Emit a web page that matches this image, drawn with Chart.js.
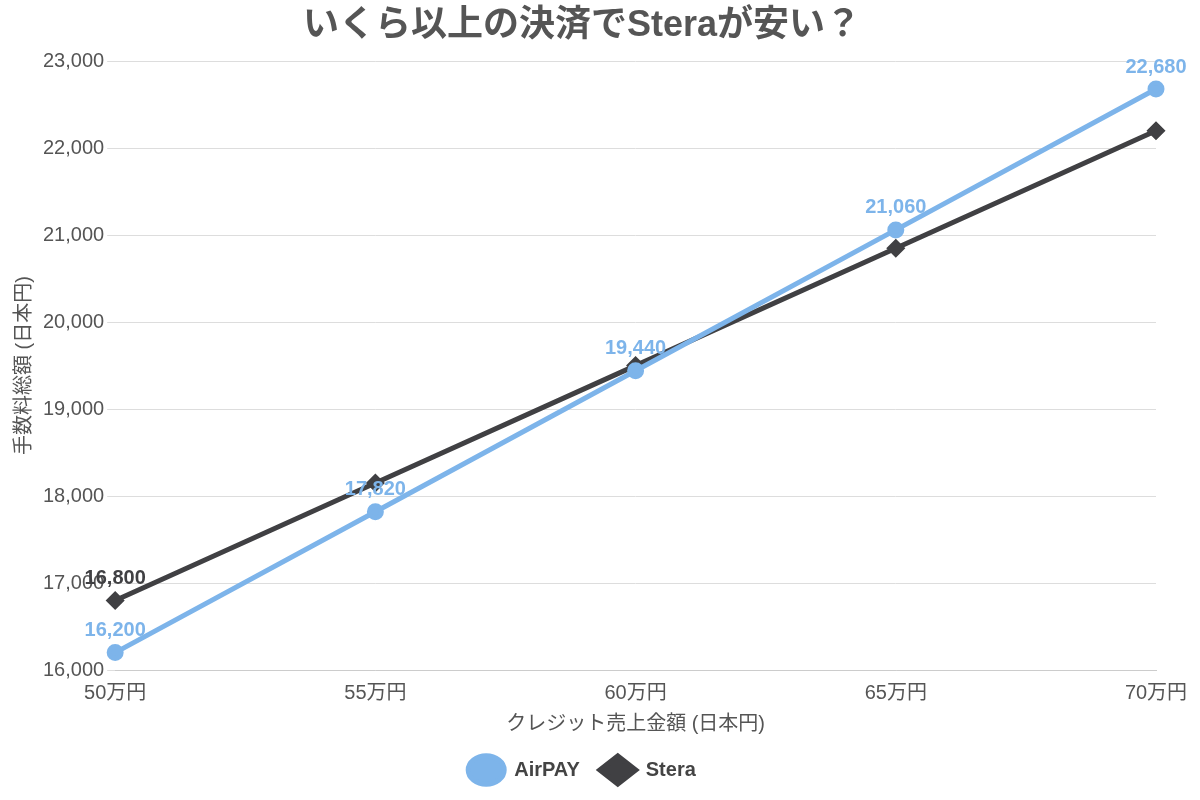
<!DOCTYPE html>
<html>
<head>
<meta charset="utf-8">
<script src="https://cdn.jsdelivr.net/npm/chart.js@4"></script>
<style>
  body { margin: 0; background: #fff; }
</style>
</head>
<body>
<canvas id="chart" width="1200" height="800"></canvas>
<script>
const categories = ['50万円', '55万円', '60万円', '65万円', '70万円'];
const airpayValues = [16200, 17820, 19440, 21060, 22680];
const steraValues = [16800, 18150, 19500, 20850, 22200];
const steraLabelIdx = [0];

const FONT = '"Helvetica Neue", "Liberation Sans", "Noto Sans CJK JP", sans-serif';

// value labels above points
const pointLabels = {
    id: 'pointLabels',
    afterDatasetsDraw(chart) {
        const ctx = chart.ctx;
        ctx.save();
        ctx.font = 'bold 20px ' + FONT;
        ctx.textAlign = 'center';
        ctx.textBaseline = 'bottom';
        chart.data.datasets.forEach((ds, di) => {
            const meta = chart.getDatasetMeta(di);
            meta.data.forEach((pt, i) => {
                if (di === 1 && !steraLabelIdx.includes(i)) return;
                ctx.fillStyle = ds.borderColor;
                ctx.fillText(ds.data[i].toLocaleString('en-US'), pt.x, pt.y - 12);
            });
        });
        ctx.restore();
    }
};

new Chart(document.getElementById('chart'), {
    type: 'line',
    data: {
        labels: categories,
        datasets: [
            {
                label: 'AirPAY',
                data: airpayValues,
                borderColor: '#7db4ea',
                backgroundColor: '#7db4ea',
                borderWidth: 5,
                pointStyle: 'circle',
                pointRadius: 6,
                order: 1
            },
            {
                label: 'Stera',
                data: steraValues,
                borderColor: '#404043',
                backgroundColor: '#404043',
                borderWidth: 5,
                pointStyle: 'rectRot',
                pointRadius: 6,
                order: 2
            }
        ]
    },
    options: {
        responsive: false,
        animation: false,
        layout: { padding: { left: 8, right: 44, top: 0, bottom: 10 } },
        plugins: {
            title: {
                display: true,
                text: 'いくら以上の決済でSteraが安い？',
                color: '#555',
                font: { family: FONT, size: 36 },
                padding: { top: 4, bottom: 14 }
            },
            legend: {
                position: 'bottom',
                labels: {
                    usePointStyle: true,
                    pointStyleWidth: 36,
                    boxHeight: 36,
                    color: '#444',
                    font: { family: FONT, size: 20, weight: 'bold' },
                    padding: 20
                }
            },
            tooltip: { enabled: false }
        },
        scales: {
            x: {
                offset: false,
                grid: { display: false },
                border: { color: '#ccc' },
                ticks: { color: '#555', font: { family: FONT, size: 20 } },
                title: { display: true, text: 'クレジット売上金額 (日本円)', color: '#555', font: { family: FONT, size: 20 } }
            },
            y: {
                min: 16000,
                max: 23000,
                ticks: { stepSize: 1000, color: '#555', font: { family: FONT, size: 20 },
                    callback: v => v.toLocaleString('en-US') },
                grid: { color: '#ddd' },
                border: { display: false },
                title: { display: true, text: '手数料総額 (日本円)', color: '#555', font: { family: FONT, size: 20 } }
            }
        }
    },
    plugins: [pointLabels]
});
</script>
</body>
</html>
